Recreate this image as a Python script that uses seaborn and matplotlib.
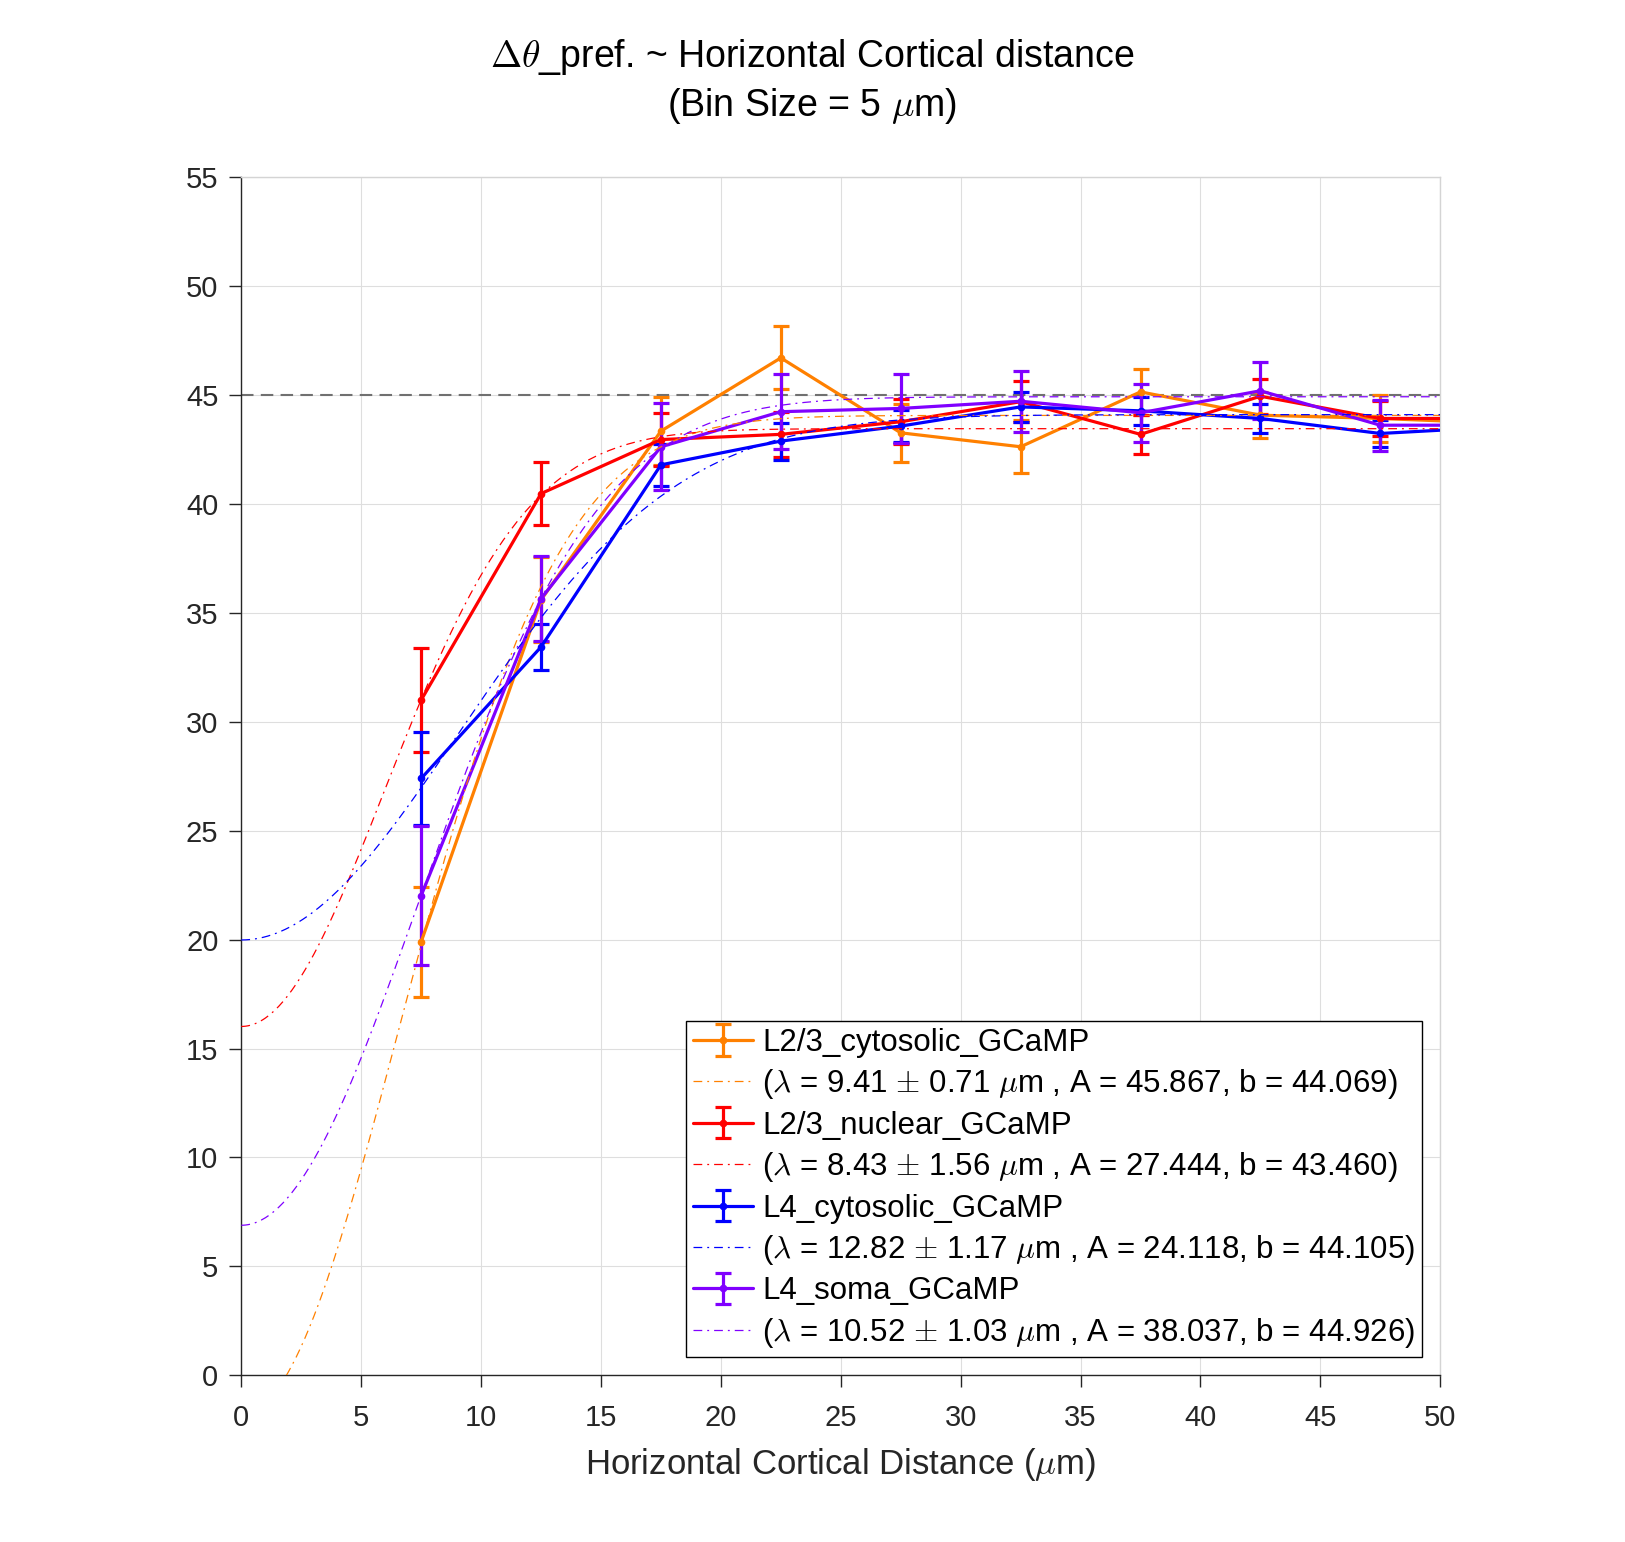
import numpy as np
import pandas as pd
import seaborn as sns
import matplotlib.pyplot as plt

# --- dados ---
x_bins = [7.5, 12.5, 17.5, 22.5, 27.5, 32.5, 37.5, 42.5, 47.5, 52.5]

names = ['L2/3_cytosolic_GCaMP', 'L2/3_nuclear_GCaMP', 'L4_cytosolic_GCaMP', 'L4_soma_GCaMP']
colors = ['#FF8000', '#FF0000', '#0000FF', '#8000FF']

cyto23_mean = [19.9, 35.6, 43.35, 46.71, 43.27, 42.63, 45.15, 44.08, 43.93, 43.71]
cyto23_err = [2.53, 1.95, 1.55, 1.45, 1.34, 1.22, 1.07, 1.07, 1.07, 1.0]
nuc23_mean = [31.0, 40.48, 42.96, 43.2, 43.78, 44.7, 43.2, 44.95, 43.93, 43.93]
nuc23_err = [2.37, 1.43, 1.2, 1.04, 1.03, 0.95, 0.88, 0.81, 0.8, 0.8]
l4cyto_mean = [27.4, 33.44, 41.8, 42.89, 43.58, 44.46, 44.28, 43.93, 43.24, 43.54]
l4cyto_err = [2.15, 1.07, 0.96, 0.85, 0.73, 0.67, 0.63, 0.65, 0.6, 0.6]
l4soma_mean = [22.02, 35.66, 42.63, 44.24, 44.39, 44.72, 44.19, 45.2, 43.62, 43.62]
l4soma_err = [3.2, 1.97, 2.0, 1.72, 1.58, 1.4, 1.33, 1.3, 1.17, 1.1]

# parâmetros do ajuste: y = b - A*exp(-(x/lambda)^2)
fit_lambda = [9.41, 8.43, 12.82, 10.52]
fit_lambda_err = [0.71, 1.56, 1.17, 1.03]
fit_A = [45.867, 27.444, 24.118, 38.037]
fit_b = [44.069, 43.460, 44.105, 44.926]

means = [cyto23_mean, nuc23_mean, l4cyto_mean, l4soma_mean]
errs = [cyto23_err, nuc23_err, l4cyto_err, l4soma_err]

# --- estilo ---
sns.set_theme(style='whitegrid')
plt.rcParams['font.family'] = ['Liberation Sans', 'DejaVu Sans']
plt.rcParams['mathtext.fontset'] = 'cm'
plt.rcParams['axes.unicode_minus'] = False

fig = plt.figure(figsize=(16.25, 15.42), dpi=100)
ax = fig.add_axes([0.1485, 0.1081, 0.8863 - 0.1485, 0.885 - 0.1081])

x_fit = np.linspace(0, 55, 600)
handles, labels = [], []
for i in range(4):
    eb = ax.errorbar(x_bins, means[i], yerr=errs[i], color=colors[i], fmt='-o',
                     lw=2.3, ms=4.5, elinewidth=2.3, capsize=5.5, capthick=2.3, zorder=3)
    y_fit = fit_b[i] - fit_A[i] * np.exp(-(x_fit / fit_lambda[i]) ** 2)
    df_fit = pd.DataFrame({'x': x_fit, 'y': y_fit})
    sns.lineplot(data=df_fit, x='x', y='y', ax=ax, color=colors[i], lw=0.9,
                 linestyle=(0, (7, 4, 1.5, 4)), zorder=4)
    fit_line = ax.lines[-1]
    handles += [eb, fit_line]
    labels += [names[i],
               r'($\lambda$ = %.2f $\pm$ %.2f $\mu$m , A = %.3f, b = %.3f)'
               % (fit_lambda[i], fit_lambda_err[i], fit_A[i], fit_b[i])]

ax.axhline(45, color='#707070', lw=1.5, linestyle=(0, (6, 3.5)), zorder=2)

ax.set_xlim(0, 50)
ax.set_ylim(0, 55)
ax.set_xticks(np.arange(0, 51, 5))
ax.set_yticks(np.arange(0, 56, 5))
ax.grid(True, color='#dedede', lw=0.8)
ax.set_facecolor('white')

for s in ['left', 'bottom']:
    ax.spines[s].set_color('#262626')
    ax.spines[s].set_linewidth(1.0)
for s in ['top', 'right']:
    ax.spines[s].set_color('#d4d4d4')
    ax.spines[s].set_linewidth(1.0)

ax.tick_params(axis='both', direction='out', length=8.5, width=1.0, color='#262626',
               labelcolor='#262626', labelsize=21, bottom=True, left=True)
ax.tick_params(axis='x', pad=12)
ax.tick_params(axis='y', pad=8)

ax.set_xlabel(r'Horizontal Cortical Distance ($\mu$m)', fontsize=25, color='#262626', labelpad=10)
ax.set_ylabel('')

fig.text(0.5, 1 - 57 / 1542, r'$\Delta\theta$_pref. ~ Horizontal Cortical distance',
         ha='center', va='center', fontsize=27, color='black')
fig.text(0.5, 1 - 106 / 1542, r'(Bin Size = 5 $\mu$m)',
         ha='center', va='center', fontsize=27, color='black')

leg = ax.legend(handles, labels, loc='lower right', bbox_to_anchor=(0.985, 0.0157),
                borderaxespad=0, fontsize=22.5, frameon=True, fancybox=False,
                edgecolor='black', framealpha=1, handlelength=1.93, handletextpad=0.3,
                labelspacing=0.3, borderpad=0.22)
leg.get_frame().set_linewidth(1.0)
for t in leg.get_texts():
    t.set_color('black')

fig.savefig('out.png', dpi=100, facecolor='white')
